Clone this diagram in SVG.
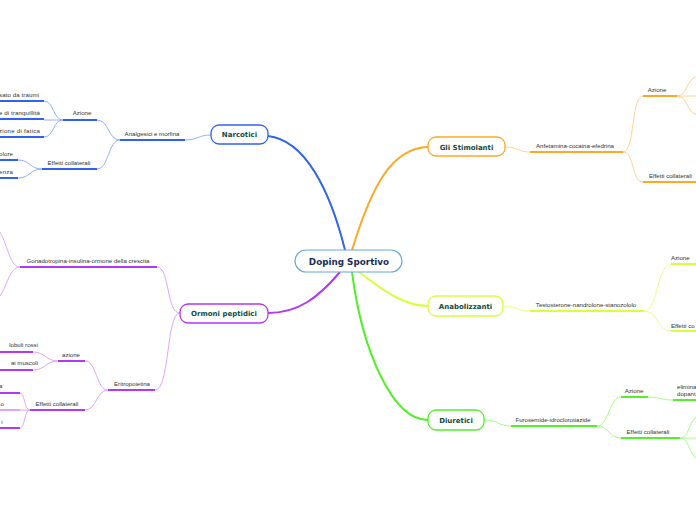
<svg xmlns="http://www.w3.org/2000/svg" width="696" height="520" viewBox="0 0 696 520">
<style>
.t{font-family:"Liberation Sans",Arial,sans-serif;font-size:6.1px;fill:#333}
.n{font-family:"DejaVu Sans",Verdana,sans-serif;font-size:7px;font-weight:bold;fill:#0f4a3a;text-anchor:middle}
.c{text-anchor:middle}
.e{text-anchor:end}
.th{fill:none;stroke-width:2}
.tn{fill:none;stroke-width:1}
.bl{stroke:#2f62f0}.blt{stroke:#93b0ff}
.or{stroke:#ffa726}.ort{stroke:#ffd28f}
.ye{stroke:#d6ff3c}.yet{stroke:#e9ff8a}
.gr{stroke:#52ef2a}.grt{stroke:#a4ff86}
.pu{stroke:#b437f5}.put{stroke:#dba6ff}
</style>
<rect width="696" height="520" fill="#fff"/>
<g id="connectors">
<path class="th bl" d="M268,136 C305,140 330,190 345,250"/>
<path class="th or" d="M352,250 C372,185 392,148 428,147"/>
<path class="th pu" d="M340,272 C318,298 298,313 268,313"/>
<path class="th ye" d="M359,272 C385,292 405,306 428,306"/>
<path class="th gr" d="M352,272 C362,350 392,420 428,420"/>
<!-- Narcotici -->
<path class="tn blt" d="M211,135 C198,135 198,140 185,140"/>
<path class="th bl" d="M120,140 H185"/>
<path class="tn blt" d="M120,140 C108,140 109,120 97,120"/>
<path class="tn blt" d="M120,140 C108,140 109,169 97,169"/>
<path class="th bl" d="M63,120 H97"/>
<path class="th bl" d="M42,169 H97"/>
<path class="tn blt" d="M63,120 C53,120 54,101 44,101"/>
<path class="tn blt" d="M63,120 H44"/>
<path class="tn blt" d="M63,120 C53,120 54,137 44,137"/>
<path class="th bl" d="M0,101 H44 M0,119 H44 M0,137 H44"/>
<path class="tn blt" d="M42,169 C30,169 30,160 18,160"/>
<path class="tn blt" d="M42,169 C30,169 30,178 18,178"/>
<path class="th bl" d="M0,160 H18 M0,178 H18"/>
<!-- Ormoni -->
<path class="tn put" d="M180,313 C166,313 170,267 157,267"/>
<path class="th pu" d="M20,267 H157"/>
<path class="tn put" d="M20,267 C8,267 7,236 -4,228"/>
<path class="tn put" d="M20,267 C8,267 7,292 -4,300"/>
<path class="tn put" d="M180,313 C166,313 170,390 155,390"/>
<path class="th pu" d="M108,390 H155"/>
<path class="tn put" d="M108,390 C96,390 97,361 85,361"/>
<path class="tn put" d="M108,390 C96,390 97,410 85,410"/>
<path class="th pu" d="M58,361 H85"/>
<path class="th pu" d="M30,410 H85"/>
<path class="tn put" d="M58,361 C46,361 45,352 33,352"/>
<path class="tn put" d="M58,361 C46,361 45,370 33,370"/>
<path class="th pu" d="M0,352 H33 M0,370 H33"/>
<path class="tn put" d="M30,410 C24,410 25,393 20,393"/>
<path class="tn put" d="M30,410 H20"/>
<path class="tn put" d="M30,410 C24,410 25,428 20,428"/>
<path class="th pu" d="M0,393 H20 M0,428 H20"/>
<path class="th put" d="M0,410 H20"/>
<!-- Stimolanti -->
<path class="tn ort" d="M505,147 C518,147 518,152 530,152"/>
<path class="th or" d="M530,152 H623"/>
<path class="tn ort" d="M623,152 C635,152 631,96 643,96"/>
<path class="tn ort" d="M623,152 C635,152 631,182 643,182"/>
<path class="th or" d="M643,96 H677"/>
<path class="th or" d="M643,182 H700"/>
<path class="tn ort" d="M677,96 C688,96 686,78 698,76"/>
<path class="tn ort" d="M677,96 H698"/>
<path class="tn ort" d="M677,96 C688,96 686,113 698,115"/>
<!-- Anabolizzanti -->
<path class="tn yet" d="M503,306 C516,306 518,311 530,311"/>
<path class="th ye" d="M530,311 H644"/>
<path class="tn yet" d="M644,311 C658,311 657,264 671,264"/>
<path class="tn yet" d="M644,311 C658,311 657,331 671,331"/>
<path class="th ye" d="M671,264 H700 M671,331 H700"/>
<!-- Diuretici -->
<path class="tn grt" d="M484,420 C498,420 498,426 511,426"/>
<path class="th gr" d="M511,426 H597"/>
<path class="tn grt" d="M597,426 C609,426 609,397 621,397"/>
<path class="tn grt" d="M597,426 C609,426 609,438 621,438"/>
<path class="th gr" d="M621,397 H648"/>
<path class="tn grt" d="M648,397 C660,397 661,400 673,400"/>
<path class="th gr" d="M673,400 H700"/>
<path class="th gr" d="M621,438 H680"/>
<path class="tn grt" d="M680,438 C690,438 688,420 698,416"/>
<path class="tn grt" d="M680,438 H700"/>
<path class="tn grt" d="M680,438 C690,438 688,455 698,459"/>
</g>
<g id="central">
<rect x="295" y="250" width="107" height="22" rx="11" fill="#fff" stroke="#64a8dc" stroke-width="1.2"/>
<text x="349" y="264.5" font-family="DejaVu Sans,Verdana,sans-serif" font-size="8.8" font-weight="bold" fill="#1a2d55" text-anchor="middle">Doping Sportivo</text>
</g>
<g id="narcotici">
<rect x="211" y="125" width="57" height="19" rx="8" fill="#fff" stroke="#2f62f0" stroke-width="1.3"/>
<text class="n" x="239.5" y="137">Narcotici</text>
</g>
<g id="analgesici"><text class="t c" x="152" y="136">Analgesici e morfina</text></g>
<g id="narc-azione"><text class="t c" x="82" y="115">Azione</text></g>
<g id="narc-effetti"><text class="t c" x="69" y="165">Effetti collaterali</text></g>
<g id="narc-l1"><text class="t" x="-1" y="97" textLength="40" lengthAdjust="spacing">sato da traumi</text></g>
<g id="narc-l2"><text class="t" x="-1" y="115" textLength="41" lengthAdjust="spacing">e di tranquillità</text></g>
<g id="narc-l3"><text class="t" x="-1" y="133" textLength="41" lengthAdjust="spacing">zione di fatica</text></g>
<g id="narc-l4"><text class="t" x="-1" y="156" textLength="14" lengthAdjust="spacing">olore</text></g>
<g id="narc-l5"><text class="t" x="-1" y="174" textLength="14" lengthAdjust="spacing">enza</text></g>
<g id="ormoni">
<rect x="180" y="304" width="88" height="19" rx="8" fill="#fff" stroke="#b437f5" stroke-width="1.3"/>
<text class="n" x="224" y="316">Ormoni peptidici</text>
</g>
<g id="gonado"><text class="t c" x="88" y="263">Gonadotropina-insulina-ormone della crescita</text></g>
<g id="eritro"><text class="t c" x="132" y="386">Eritropoietina</text></g>
<g id="orm-azione"><text class="t c" x="71" y="357">azione</text></g>
<g id="orm-effetti"><text class="t c" x="57" y="406">Effetti collaterali</text></g>
<g id="orm-l1"><text class="t e" x="38" y="347">lobuli rossi</text></g>
<g id="orm-l2"><text class="t e" x="38" y="365">ai muscoli</text></g>
<g id="orm-l3"><text class="t e" x="2.5" y="388">a</text></g>
<g id="orm-l4"><text class="t e" x="4" y="406">o</text></g>
<g id="orm-l5"><text class="t e" x="2.5" y="424">i</text></g>
<g id="stimolanti">
<rect x="428" y="137" width="77" height="19" rx="8" fill="#fff" stroke="#ffa726" stroke-width="1.3"/>
<text class="n" x="466.5" y="149.5">Gli Stimolanti</text>
</g>
<g id="anfetamina"><text class="t c" x="575" y="148">Anfetamina-cocaina-efedrina</text></g>
<g id="stim-azione"><text class="t c" x="657" y="92">Azione</text></g>
<g id="stim-effetti"><text class="t" x="649" y="178">Effetti collaterali</text></g>
<g id="anabolizzanti">
<rect x="428" y="296" width="75" height="20" rx="8" fill="#fff" stroke="#d6ff3c" stroke-width="1.3"/>
<text class="n" x="465.5" y="308.5">Anabolizzanti</text>
</g>
<g id="testosterone"><text class="t c" x="586" y="307">Testosterone-nandrolone-stanozololo</text></g>
<g id="anab-azione"><text class="t" x="671" y="260">Azione</text></g>
<g id="anab-effetti"><text class="t" x="671" y="328">Effetti co</text></g>
<g id="diuretici">
<rect x="428" y="410" width="56" height="20" rx="8" fill="#fff" stroke="#52ef2a" stroke-width="1.3"/>
<text class="n" x="456" y="422.5">Diuretici</text>
</g>
<g id="furosemide"><text class="t c" x="553" y="422">Furosemide-idroclorotiazide</text></g>
<g id="diur-azione"><text class="t c" x="634" y="393">Azione</text></g>
<g id="diur-elimina"><text class="t" x="677" y="389">elimina</text><text class="t" x="677" y="396">dopant</text></g>
<g id="diur-effetti"><text class="t c" x="648" y="434">Effetti collaterali</text></g>
</svg>
